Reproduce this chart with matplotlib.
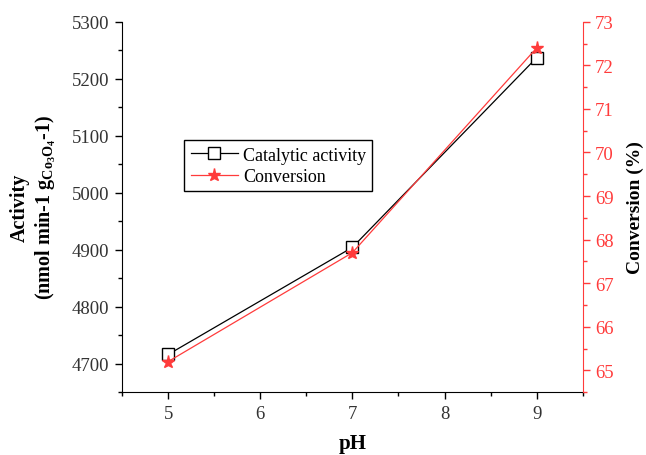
import matplotlib
matplotlib.use('Agg')
import matplotlib.pyplot as plt
from matplotlib.ticker import MultipleLocator

# pH series with catalytic activity and conversion
ph = [5, 7, 9]
activity = [4716, 4904, 5237]
conversion = [65.2, 67.7, 72.4]

RED = '#ff3b3b'

plt.rcParams['font.family'] = ['Liberation Serif', 'DejaVu Serif']
plt.rcParams['mathtext.fontset'] = 'custom'
plt.rcParams['mathtext.rm'] = 'Liberation Serif'
plt.rcParams['mathtext.it'] = 'Liberation Serif'
plt.rcParams['mathtext.bf'] = 'Liberation Serif:bold'

fig = plt.figure(figsize=(6.46, 4.56), dpi=100)
ax = fig.add_axes([0.189, 0.138, 0.713, 0.812])
ax2 = ax.twinx()

l1, = ax.plot(ph, activity, color='black', lw=0.9, marker='s', ms=8,
              mfc='white', mec='black', mew=1.0, label='Catalytic activity')
l2, = ax2.plot(ph, conversion, color=RED, lw=0.9, marker='*', ms=9.5,
               mfc=RED, mec=RED, label='Conversion')

ax.set_xlim(4.5, 9.5)
ax.set_ylim(4650, 5300)
ax2.set_ylim(64.5, 73)

ax.xaxis.set_major_locator(MultipleLocator(1))
ax.xaxis.set_minor_locator(MultipleLocator(0.5))
ax.yaxis.set_major_locator(MultipleLocator(100))
ax.yaxis.set_minor_locator(MultipleLocator(50))
ax2.yaxis.set_major_locator(MultipleLocator(1))
ax2.yaxis.set_minor_locator(MultipleLocator(0.5))

for a in (ax, ax2):
    a.spines['top'].set_visible(False)
ax.spines['right'].set_visible(False)
ax2.spines['left'].set_visible(False)
ax2.spines['bottom'].set_visible(False)
ax2.spines['right'].set_color(RED)

ax.tick_params(which='major', direction='out', length=5, width=1, labelsize=13.5,
               labelcolor='#333333', pad=4)
ax.tick_params(which='minor', direction='out', length=3, width=1)
ax2.tick_params(which='major', direction='out', length=5, width=1, color=RED,
                labelcolor=RED, labelsize=13.5, pad=4)
ax2.tick_params(which='minor', direction='out', length=3, width=1, color=RED)

ax.set_xlabel('pH', fontsize=15, fontweight='bold', labelpad=8)
ax.set_ylabel('Activity\n(nmol min-1 g$_{\\mathbf{Co_3O_4}}$-1)', fontsize=14.5,
              fontweight='bold', labelpad=10, linespacing=1.25)
ax2.set_ylabel('Conversion (%)', fontsize=14, fontweight='bold', labelpad=9)

leg = ax.legend(handles=[l1, l2], loc='upper left', bbox_to_anchor=(0.135, 0.68),
                fontsize=13, frameon=True, fancybox=False, edgecolor='black',
                borderpad=0.35, handlelength=2.6, handletextpad=0.3,
                labelspacing=0.25, borderaxespad=0)
leg.get_frame().set_linewidth(1.0)
leg.get_frame().set_alpha(1)
leg.set_zorder(5)

fig.savefig('out.png', dpi=100)
